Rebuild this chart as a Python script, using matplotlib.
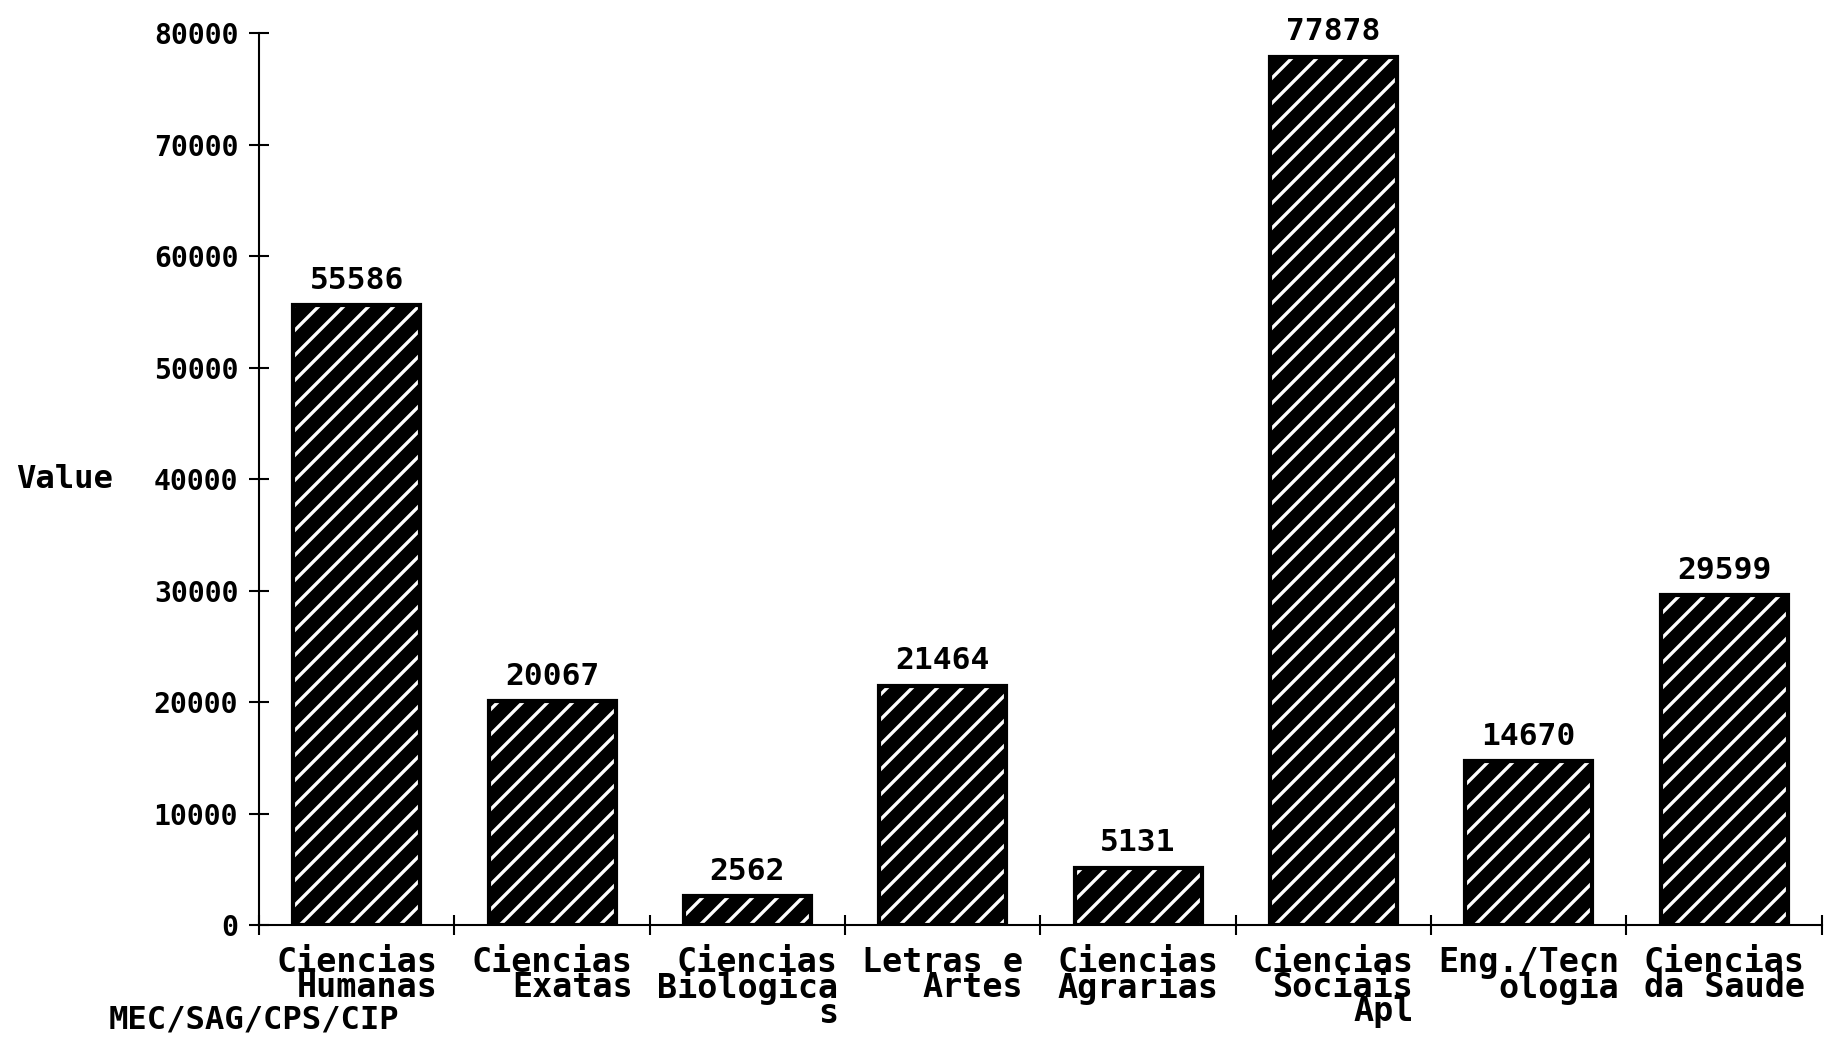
"""
Bar chart of enrolments by knowledge area (MEC/SAG/CPS/CIP), old DOS plot style.
"""

import matplotlib

matplotlib.use("Agg")

import matplotlib.pyplot as plt  # noqa: E402

# --- data ---
areas = [
    "Ciencias\nHumanas",
    "Ciencias\nExatas",
    "Ciencias\nBiologica\ns",
    "Letras e\nArtes",
    "Ciencias\nAgrarias",
    "Ciencias\nSociais\nApl",
    "Eng./Tecn\nologia",
    "Ciencias\nda Saude",
]
values = [55586, 20067, 2562, 21464, 5131, 77878, 14670, 29599]
y_ticks = [0, 10000, 20000, 30000, 40000, 50000, 60000, 70000, 80000]

MONO = ["DejaVu Sans Mono"]
plt.rcParams["font.family"] = MONO
plt.rcParams["font.weight"] = "bold"
plt.rcParams["hatch.linewidth"] = 1.6

DPI = 150
fig = plt.figure(figsize=(1832 / DPI, 1037 / DPI), dpi=DPI)
ax = fig.add_axes([0.1414, 0.108, 0.853, 0.860])

pos = list(range(len(values)))
# hatched fill (white diagonals on black), then a plain black outline on top
ax.bar(pos, values, width=0.65, color="black", edgecolor="white",
       hatch="//", linewidth=0)
ax.bar(pos, values, width=0.65, fill=False, edgecolor="black", linewidth=2)

for x, v in zip(pos, values):
    ax.annotate(str(v), (x, v), xytext=(0, 5), textcoords="offset points",
                ha="center", va="bottom", fontsize=15, fontweight="bold")

ax.set_xlim(-0.5, len(values) - 0.5)
ax.set_ylim(0, 80000)

# y axis
ax.set_yticks(y_ticks)
ax.set_yticklabels([str(t) for t in y_ticks], fontsize=13.5, fontweight="bold")
ax.tick_params(axis="y", direction="inout", length=10, width=1, pad=5)

# x axis: ticks at slot boundaries, labels in slot centres
ax.set_xticks([p - 0.5 for p in pos] + [len(values) - 0.5])
ax.set_xticklabels([])
ax.tick_params(axis="x", which="major", direction="inout", length=10, width=1)
ax.set_xticks(pos, minor=True)
ax.set_xticklabels(areas, minor=True, fontsize=16, fontweight="bold",
                   multialignment="right", linespacing=0.68)
ax.tick_params(axis="x", which="minor", length=0, pad=10)

for side in ("top", "right"):
    ax.spines[side].set_visible(False)
for side in ("left", "bottom"):
    ax.spines[side].set_linewidth(1)

fig.text(0.0087, 0.538, "Value", fontsize=15.5, fontweight="bold", va="center")
fig.text(0.0595, 0.0164, "MEC/SAG/CPS/CIP", fontsize=15.5, fontweight="bold",
         va="center")

fig.savefig("out.png", dpi=DPI)
plt.close(fig)
